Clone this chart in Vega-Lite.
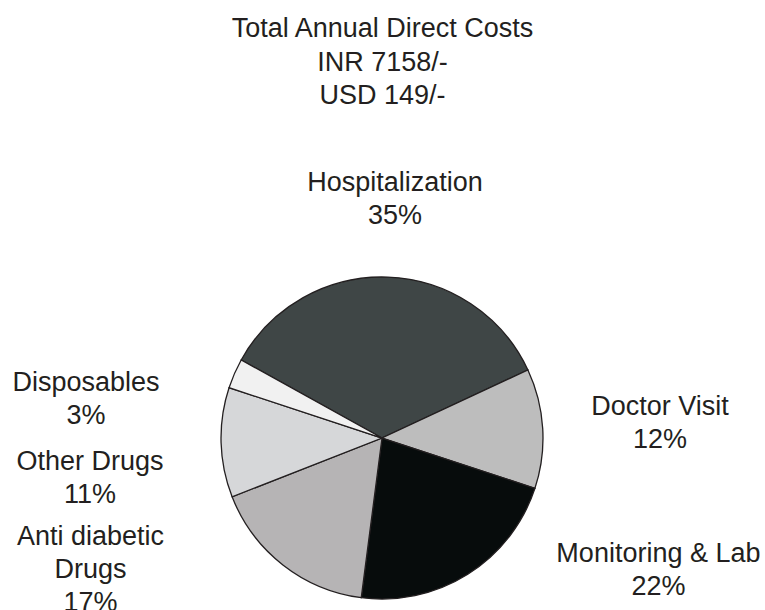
{
  "$schema": "https://vega.github.io/schema/vega-lite/v6.json",
  "width": 765,
  "height": 500,
  "padding": {"left": 0, "right": 0, "top": 15, "bottom": 0},
  "background": "white",
  "title": {
    "text": ["Total Annual Direct Costs", "INR 7158/-", "USD 149/-"],
    "font": "Liberation Sans",
    "fontSize": 27,
    "fontWeight": "normal",
    "lineHeight": 33.5,
    "color": "#231f20",
    "anchor": "middle",
    "offset": 0
  },
  "config": {"view": {"stroke": null}},
  "data": {
    "values": [
      {"category": "Hospitalization", "pct": 35, "rank": 1},
      {"category": "Doctor Visit", "pct": 12, "rank": 2},
      {"category": "Monitoring & Lab", "pct": 22, "rank": 3},
      {"category": "Anti diabetic Drugs", "pct": 17, "rank": 4},
      {"category": "Other Drugs", "pct": 11, "rank": 5},
      {"category": "Disposables", "pct": 3, "rank": 6}
    ]
  },
  "transform": [
    {"calculate": "replace(datum.category, 'Anti diabetic ', 'Anti diabetic\\n') + '\\n' + datum.pct + '%'", "as": "label"}
  ],
  "layer": [
    {
      "mark": {"type": "arc", "radius": 161, "stroke": "#231f20", "strokeWidth": 1.3},
      "encoding": {
        "x": {"datum": 0, "type": "quantitative", "scale": {"domain": [-2.3727, 2.3789], "nice": false, "zero": false}, "axis": null},
        "y": {"datum": 0, "type": "quantitative", "scale": {"domain": [-1.068, 2.037], "nice": false, "zero": false}, "axis": null},
        "theta": {"field": "pct", "type": "quantitative", "stack": true, "scale": {"domain": [0, 100], "range": [-1.0647, 5.2185]}},
        "color": {
          "field": "category", "type": "nominal", "legend": null,
          "scale": {
            "domain": ["Hospitalization", "Doctor Visit", "Monitoring & Lab", "Anti diabetic Drugs", "Other Drugs", "Disposables"],
            "range": ["#3f4646", "#bdbdbd", "#070c0c", "#b6b4b5", "#d6d7d9", "#f1f1f1"]
          }
        },
        "order": {"field": "rank", "type": "quantitative"}
      }
    },
    {
      "transform": [{"filter": "datum.category === 'Hospitalization'"}],
      "mark": {"type": "text", "font": "Liberation Sans", "fontSize": 27, "lineHeight": 33, "lineBreak": "\n", "align": "center", "baseline": "alphabetic", "color": "#231f20"},
      "encoding": {"x": {"datum": 0.0807, "type": "quantitative"}, "y": {"datum": 1.531, "type": "quantitative"}, "text": {"field": "label"}}
    },
    {
      "transform": [{"filter": "datum.category === 'Doctor Visit'"}],
      "mark": {"type": "text", "font": "Liberation Sans", "fontSize": 27, "lineHeight": 33, "lineBreak": "\n", "align": "center", "baseline": "alphabetic", "color": "#231f20"},
      "encoding": {"x": {"datum": 1.727, "type": "quantitative"}, "y": {"datum": 0.146, "type": "quantitative"}, "text": {"field": "label"}}
    },
    {
      "transform": [{"filter": "datum.category === 'Monitoring & Lab'"}],
      "mark": {"type": "text", "font": "Liberation Sans", "fontSize": 27, "lineHeight": 33, "lineBreak": "\n", "align": "center", "baseline": "alphabetic", "color": "#231f20"},
      "encoding": {"x": {"datum": 1.717, "type": "quantitative"}, "y": {"datum": -0.767, "type": "quantitative"}, "text": {"field": "label"}}
    },
    {
      "transform": [{"filter": "datum.category === 'Disposables'"}],
      "mark": {"type": "text", "font": "Liberation Sans", "fontSize": 27, "lineHeight": 33, "lineBreak": "\n", "align": "center", "baseline": "alphabetic", "color": "#231f20"},
      "encoding": {"x": {"datum": -1.839, "type": "quantitative"}, "y": {"datum": 0.289, "type": "quantitative"}, "text": {"field": "label"}}
    },
    {
      "transform": [{"filter": "datum.category === 'Other Drugs'"}],
      "mark": {"type": "text", "font": "Liberation Sans", "fontSize": 27, "lineHeight": 33, "lineBreak": "\n", "align": "center", "baseline": "alphabetic", "color": "#231f20"},
      "encoding": {"x": {"datum": -1.814, "type": "quantitative"}, "y": {"datum": -0.196, "type": "quantitative"}, "text": {"field": "label"}}
    },
    {
      "transform": [{"filter": "datum.category === 'Anti diabetic Drugs'"}],
      "mark": {"type": "text", "font": "Liberation Sans", "fontSize": 27, "lineHeight": 33, "lineBreak": "\n", "align": "center", "baseline": "alphabetic", "color": "#231f20"},
      "encoding": {"x": {"datum": -1.811, "type": "quantitative"}, "y": {"datum": -0.662, "type": "quantitative"}, "text": {"field": "label"}}
    }
  ]
}
